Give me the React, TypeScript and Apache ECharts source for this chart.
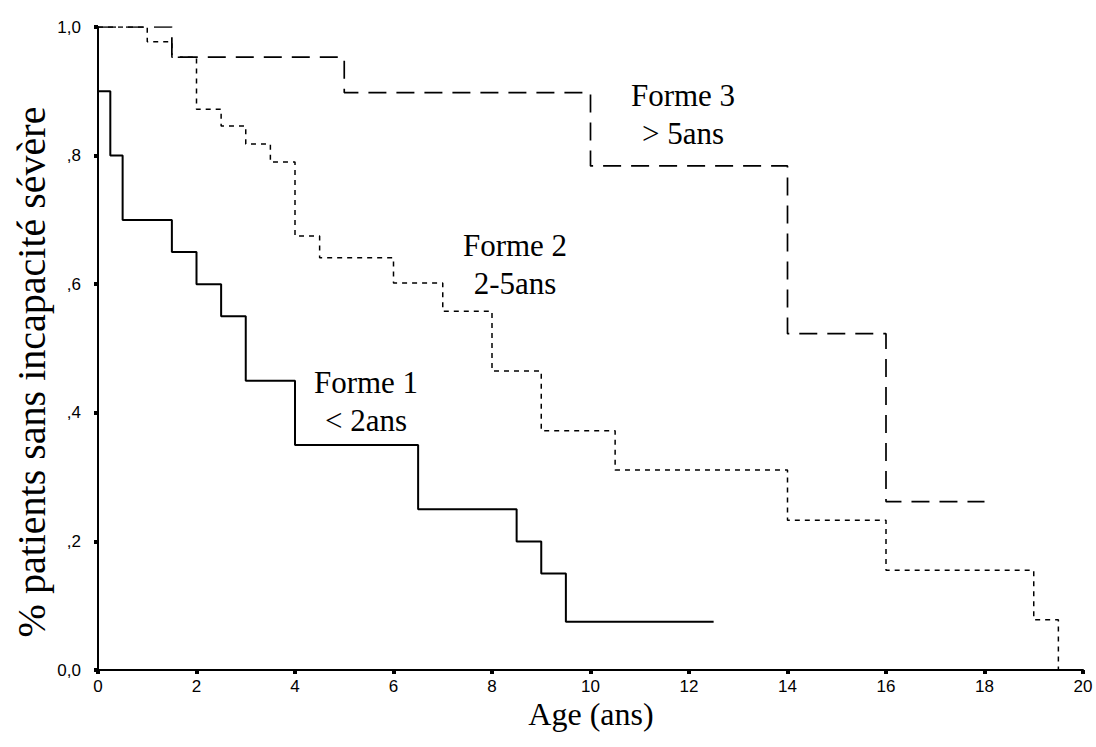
import React, { useEffect, useRef } from "react";
import * as echarts from "echarts";

// Kaplan-Meier curves (time in years, proportion without severe disability)
const forme1Times = [0, 0, 0.25, 0.5, 1.5, 2, 2.5, 3, 4, 6.5, 8.5, 9, 9.5, 12.5];
const forme1Surv = [1.0, 0.9, 0.8, 0.7, 0.65, 0.6, 0.55, 0.45, 0.35, 0.25, 0.2, 0.15, 0.075, 0.075];

const forme2Times = [0, 1, 1.5, 2, 2.5, 3, 3.5, 4, 4.5, 6, 7, 8, 9, 10.5, 14, 16, 19, 19.5];
const forme2Surv = [1.0, 0.977, 0.953, 0.872, 0.846, 0.818, 0.79, 0.675, 0.641, 0.602, 0.558, 0.465, 0.372, 0.311, 0.233, 0.155, 0.078, 0];

const forme3Times = [0, 1.5, 5, 10, 14, 16, 18];
const forme3Surv = [1.0, 0.953, 0.898, 0.784, 0.523, 0.262, 0.262];

const yTickLabels = ["0,0", ",2", ",4", ",6", ",8", "1,0"];
const xTickLabels = ["0", "2", "4", "6", "8", "10", "12", "14", "16", "18", "20"];

const annotations = [
  { lines: ["Forme 1", "< 2ans"], x: 366, y: 382 },
  { lines: ["Forme 2", "2-5ans"], x: 515, y: 245 },
  { lines: ["Forme 3", "> 5ans"], x: 683, y: 95 },
];

const serif = '"Liberation Serif", "Times New Roman", Times, serif';
const sans = '"Liberation Sans", Arial, Helvetica, sans-serif';

function zip(t: number[], s: number[]) {
  return t.map((v, i) => [v, s[i]]);
}

export default function App() {
  const ref = useRef<HTMLDivElement>(null);

  useEffect(() => {
    if (!ref.current) return;
    const chart = echarts.init(ref.current, null, { renderer: "svg" });

    const graphics: any[] = [];
    annotations.forEach((a) => {
      a.lines.forEach((line, i) => {
        graphics.push({
          type: "text",
          x: a.x,
          y: a.y + i * 38,
          style: {
            text: line,
            font: `31px ${serif}`,
            fill: "#000",
            align: "center",
            verticalAlign: "middle",
          },
        });
      });
    });
    graphics.push({
      type: "text",
      x: 591,
      y: 714,
      style: {
        text: "Age (ans)",
        font: `32px ${serif}`,
        fill: "#000",
        align: "center",
        verticalAlign: "middle",
      },
    });
    graphics.push({
      type: "text",
      x: 31,
      y: 372,
      rotation: Math.PI / 2,
      style: {
        text: "% patients sans incapacité sévère",
        font: `40px ${serif}`,
        fill: "#000",
        align: "center",
        verticalAlign: "middle",
      },
    });

    const lineSeries = (name: string, data: number[][], type: any, width: number, z: number) => ({
      name,
      type: "line",
      step: "end",
      data,
      symbol: "none",
      z,
      lineStyle: { color: "#000", width, type },
    });

    chart.setOption({
      animation: false,
      backgroundColor: "#fff",
      grid: { left: 98, right: 13, top: 27, bottom: 77 },
      xAxis: {
        type: "value",
        min: 0,
        max: 20,
        interval: 2,
        axisLine: { show: true, lineStyle: { color: "#000", width: 2 } },
        axisTick: { show: true, length: 4, lineStyle: { color: "#000", width: 4 } },
        splitLine: { show: false },
        axisLabel: {
          color: "#000",
          fontFamily: sans,
          fontSize: 17,
          margin: 8,
          formatter: (_v: number, i: number) => xTickLabels[i],
        },
      },
      yAxis: {
        type: "value",
        min: 0,
        max: 1,
        interval: 0.2,
        axisLine: { show: true, lineStyle: { color: "#000", width: 2 } },
        axisTick: { show: true, length: 4, lineStyle: { color: "#000", width: 4 } },
        splitLine: { show: false },
        axisLabel: {
          color: "#000",
          fontFamily: sans,
          fontSize: 17,
          margin: 17,
          formatter: (_v: number, i: number) => yTickLabels[i],
        },
      },
      series: [
        lineSeries("Forme 3 > 5ans", zip(forme3Times, forme3Surv), [18, 10], 1.7, 2),
        lineSeries("Forme 2 2-5ans", zip(forme2Times, forme2Surv), [5, 5], 1.5, 3),
        lineSeries("Forme 1 < 2ans", zip(forme1Times, forme1Surv), "solid", 2, 4),
      ],
      graphic: graphics,
    });

    return () => chart.dispose();
  }, []);

  return (
    <div
      ref={ref}
      style={{ position: "absolute", left: 0, top: 0, width: 1096, height: 747, background: "#fff" }}
    />
  );
}
